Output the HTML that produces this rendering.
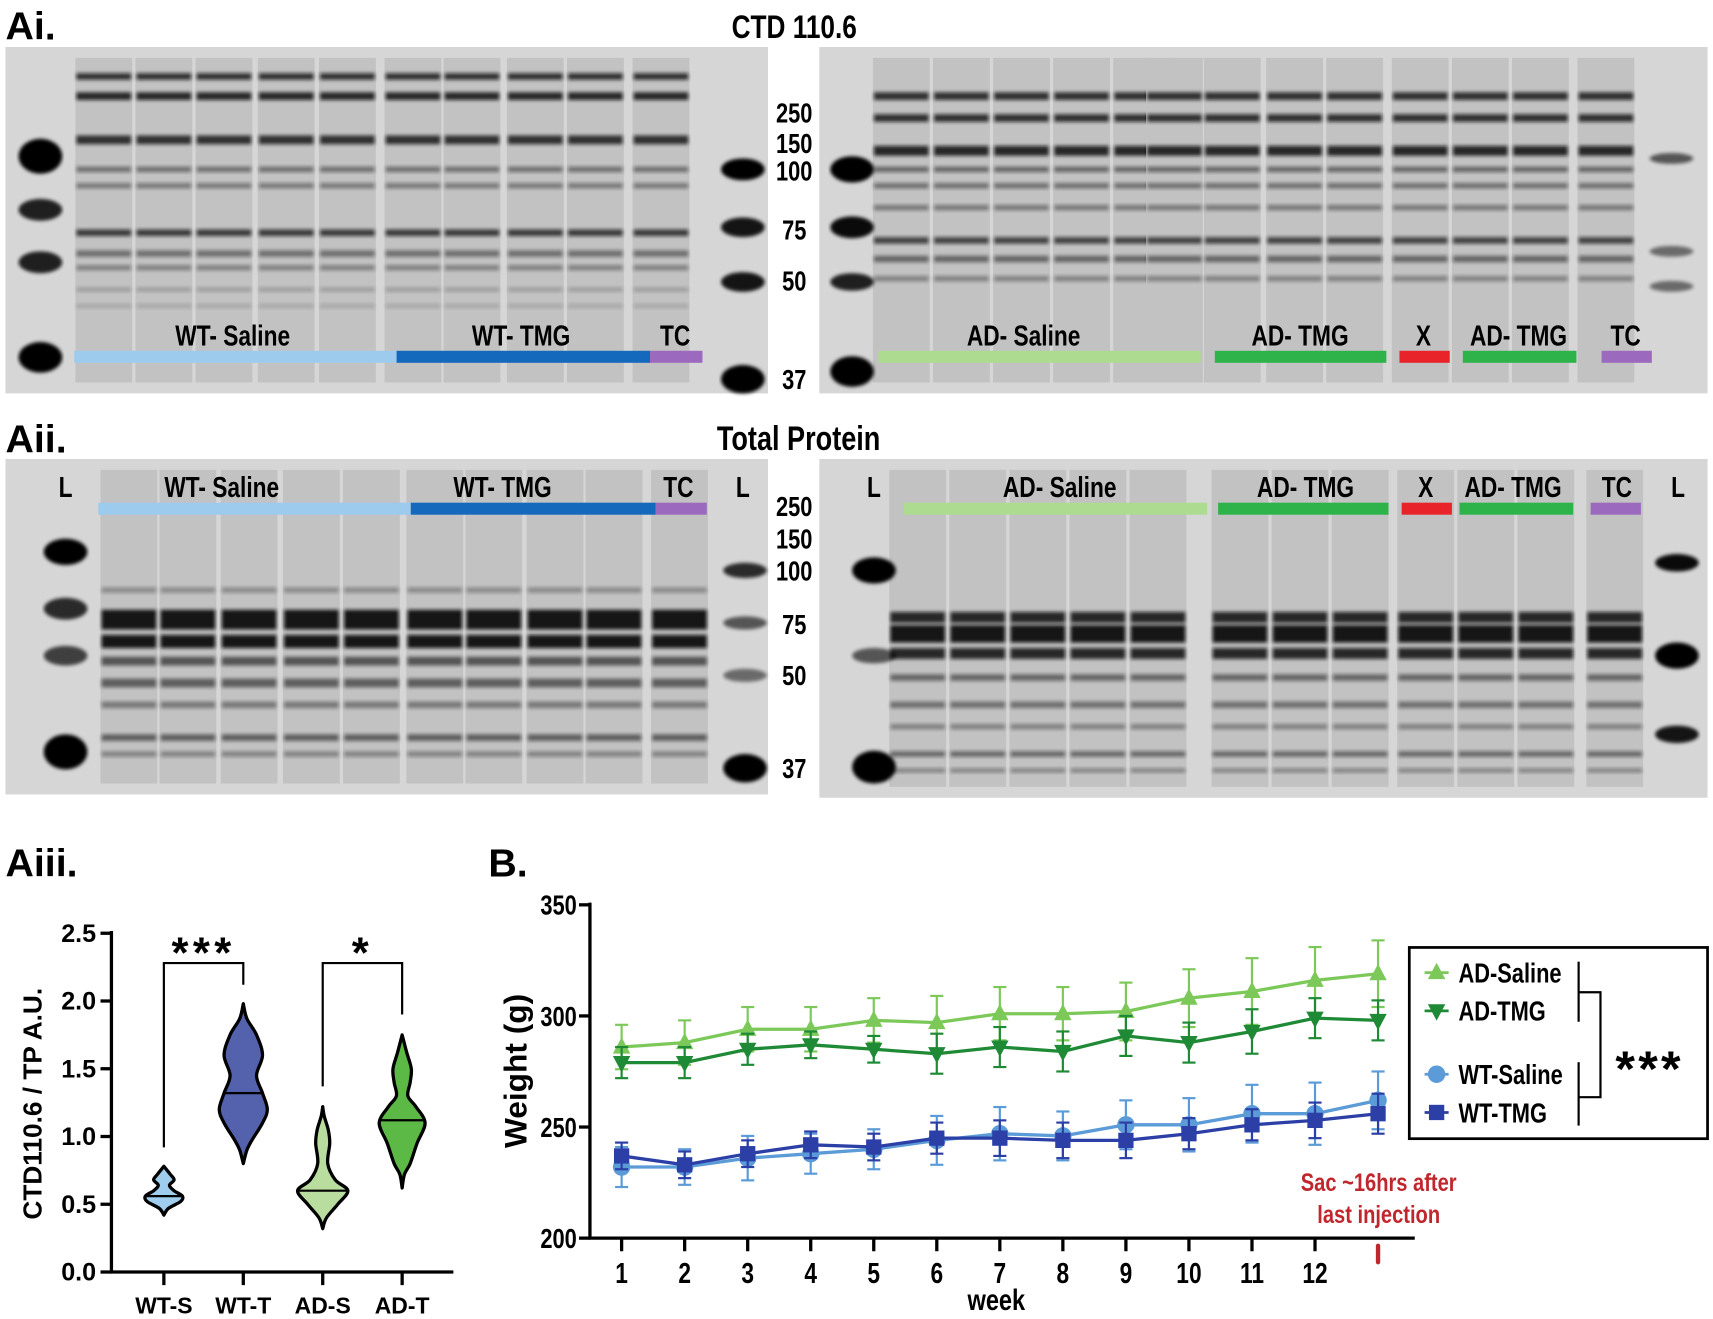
<!DOCTYPE html>
<html><head><meta charset="utf-8"><style>
html,body{margin:0;padding:0;background:#fff;}
svg{display:block;}
text{font-family:"Liberation Sans",Arial,sans-serif;font-weight:bold;}
</style></head><body>
<svg id="fig" width="1713" height="1319" viewBox="0 0 1568 1207" preserveAspectRatio="none" xmlns="http://www.w3.org/2000/svg">
<defs><filter id="bl" x="-5%" y="-50%" width="110%" height="200%"><feGaussianBlur stdDeviation="1.8"/></filter></defs>
<g id="blots"></g>
<g id="labels">
<text x="5" y="36" font-size="36">Ai.</text>
<text class="nar" x="727" y="35" font-size="30" text-anchor="middle">CTD 110.6</text>
<text x="5" y="414" font-size="36">Aii.</text>
<text class="nar" x="731" y="412" font-size="31" text-anchor="middle">Total Protein</text>
<g font-size="25" text-anchor="middle">
<text class="nar" x="727" y="112">250</text><text class="nar" x="727" y="140">150</text><text class="nar" x="727" y="165">100</text><text class="nar" x="727" y="219">75</text><text class="nar" x="727" y="266">50</text><text class="nar" x="727" y="356">37</text>
<text class="nar" x="727" y="472">250</text><text class="nar" x="727" y="502">150</text><text class="nar" x="727" y="531">100</text><text class="nar" x="727" y="580">75</text><text class="nar" x="727" y="627">50</text><text class="nar" x="727" y="712">37</text>
</g>
<g font-size="26" text-anchor="middle">
<text class="nar" x="213" y="316">WT- Saline</text><text class="nar" x="477" y="316">WT- TMG</text><text class="nar" x="618" y="316">TC</text>
<text class="nar" x="937" y="316">AD- Saline</text><text class="nar" x="1190" y="316">AD- TMG</text><text class="nar" x="1303" y="316">X</text><text class="nar" x="1390" y="316">AD- TMG</text><text class="nar" x="1488" y="316">TC</text>
<text class="nar" x="60" y="455">L</text><text class="nar" x="203" y="455">WT- Saline</text><text class="nar" x="460" y="455">WT- TMG</text><text class="nar" x="621" y="455">TC</text><text class="nar" x="680" y="455">L</text>
<text class="nar" x="800" y="455">L</text><text class="nar" x="970" y="455">AD- Saline</text><text class="nar" x="1195" y="455">AD- TMG</text><text class="nar" x="1305" y="455">X</text><text class="nar" x="1385" y="455">AD- TMG</text><text class="nar" x="1480" y="455">TC</text><text class="nar" x="1536" y="455">L</text>
</g>
<g>
<rect x="68" y="321" width="295" height="11" fill="#9dcbee"/><rect x="363" y="321" width="232" height="11" fill="#1469bd"/><rect x="595" y="321" width="48" height="11" fill="#9b69bd"/>
<rect x="804" y="321" width="295" height="11" fill="#addb8f"/><rect x="1112" y="321" width="157" height="11" fill="#2db34a"/><rect x="1281" y="321" width="46" height="11" fill="#e8232a"/><rect x="1339" y="321" width="104" height="11" fill="#2db34a"/><rect x="1466" y="321" width="46" height="11" fill="#9b69bd"/>
<rect x="90" y="460" width="286" height="11" fill="#9dcbee"/><rect x="376" y="460" width="224" height="11" fill="#1469bd"/><rect x="600" y="460" width="47" height="11" fill="#9b69bd"/>
<rect x="827" y="460" width="278" height="11" fill="#addb8f"/><rect x="1115" y="460" width="156" height="11" fill="#2db34a"/><rect x="1283" y="460" width="46" height="11" fill="#e8232a"/><rect x="1336" y="460" width="104" height="11" fill="#2db34a"/><rect x="1456" y="460" width="46" height="11" fill="#9b69bd"/>
</g>
</g>
<g id="violin"></g>
<g id="lines"></g>
</svg>
<script>
const NS="http://www.w3.org/2000/svg";
function mk(p,tag,at){const e=document.createElementNS(NS,tag);for(const k in at)e.setAttribute(k,at[k]);p.appendChild(e);return e;}

/* ---------- blots (image approximation) ---------- */
const blotG=document.getElementById('blots');
const blots=[
 {x:5,y:43,w:698,h:317,lanes:[95,150,205,262,318,378,432,490,545,605],lw:52,
  bands:[[70,6,.8],[88,7,.85],[128,8,.8],[155,5,.45],[170,5,.4],[213,6,.75],[232,6,.45],[245,5,.35],[265,4,.2],[280,4,.15]],
  ladder:[[37,143,16,1],[37,192,10,.85],[37,240,10,.85],[37,327,14,1],[680,155,10,1],[680,208,9,.9],[680,258,9,.9],[680,347,13,1]]},
 {x:750,y:43,w:813,h:317,lanes:[825,880,935,990,1045,1128,1185,1240,1300,1355,1410,1470,1075],lw:52,
  bands:[[88,7,.8],[108,7,.8],[138,9,.85],[155,5,.5],[170,5,.45],[190,5,.4],[220,6,.7],[237,6,.5],[255,5,.35]],
  ladder:[[780,155,12,1],[780,208,10,.95],[780,258,8,.85],[780,340,14,1],[1530,145,5,.6],[1530,230,5,.5],[1530,262,5,.5]]},
 {x:5,y:420,w:698,h:307,lanes:[118,172,228,285,340,398,452,508,562,622],lw:52,
  bands:[[540,5,.3],[567,18,.95],[587,12,.95],[605,8,.6],[625,8,.55],[645,6,.4],[675,6,.55],[690,5,.35]],
  ladder:[[60,505,12,1],[60,557,10,.8],[60,600,9,.7],[60,688,16,1],[682,522,7,.8],[682,570,6,.6],[682,618,6,.5],[682,703,13,1]]},
 {x:750,y:420,w:813,h:310,lanes:[840,895,950,1005,1060,1135,1190,1245,1305,1360,1415,1478],lw:52,
  bands:[[565,10,.85],[580,16,.95],[598,10,.85],[620,6,.5],[645,6,.45],[665,5,.35],[690,5,.5],[705,4,.35]],
  ladder:[[800,522,12,1],[800,600,7,.6],[800,702,15,1],[1535,515,8,.95],[1535,600,12,1],[1535,672,8,.9]]}
];
blots.forEach((b,i)=>{
 const g=mk(blotG,'g',{});
 
 
 mk(g,'rect',{x:b.x,y:b.y,width:b.w,height:b.h,fill:'#d6d6d6'});
 b.lanes.forEach(cx=>{
  const l=mk(g,'rect',{x:cx-b.lw/2,y:b.y+10,width:b.lw,height:b.h-20,fill:'#c2c2c2'});
  
  
  b.bands.forEach(bd=>{mk(g,'rect',{x:cx-b.lw/2+1,y:bd[0]-bd[1]/2,width:b.lw-2,height:bd[1],fill:'#111',opacity:bd[2],filter:'url(#bl)'});});
 });
 b.ladder.forEach(ld=>{mk(g,'ellipse',{cx:ld[0],cy:ld[1],rx:20,ry:ld[2],fill:'#000',opacity:ld[3],filter:'url(#bl)'});});
});

/* ---------- violin chart (Aiii) ---------- */
const vCats=['WT-S','WT-T','AD-S','AD-T'];
const vMedians=[0.56,1.32,0.60,1.12];
const vFill=['#9fcdee','#5462ae','#b9dd9e','#5cb946'];
const vProf0=[[0.42,0],[0.47,0.25],[0.52,0.9],[0.56,1],[0.60,0.55],[0.64,0.3],[0.68,0.55],[0.72,0.35],[0.78,0]];
const vProf1=[[0.80,0],[0.90,0.15],[0.97,0.35],[1.10,0.8],[1.20,1],[1.32,0.8],[1.45,0.55],[1.60,0.8],[1.75,0.55],[1.87,0.15],[1.98,0]];
const vProf2=[[0.32,0],[0.40,0.15],[0.50,0.6],[0.60,1],[0.68,0.5],[0.80,0.2],[0.95,0.28],[1.05,0.22],[1.15,0.06],[1.22,0]];
const vProf3=[[0.62,0],[0.72,0.1],[0.80,0.35],[0.95,0.65],[1.10,1],[1.22,0.6],[1.30,0.25],[1.40,0.35],[1.50,0.4],[1.62,0.2],[1.75,0]];
const vProfiles=[vProf0,vProf1,vProf2,vProf3];
const vHalf=[17,22,23,21];
const vTicks=[0,0.5,1.0,1.5,2.0,2.5];
const VG=document.getElementById('violin');
const vx=i=>150+i*72.7, vy=v=>1164-v*124;
mk(VG,'line',{x1:102,y1:vy(2.5)-2,x2:102,y2:1164,stroke:'#000','stroke-width':3});
mk(VG,'line',{x1:101,y1:1164,x2:415,y2:1164,stroke:'#000','stroke-width':3});
vTicks.forEach(t=>{
 mk(VG,'line',{x1:92,y1:vy(t),x2:102,y2:vy(t),stroke:'#000','stroke-width':3});
 const tx=mk(VG,'text',{x:88,y:vy(t)+8,'font-size':23,'text-anchor':'end'});tx.textContent=t.toFixed(1);
 
 
});
const yl=mk(VG,'text',{x:0,y:0,'font-size':24,'text-anchor':'middle',transform:'translate(38,1010) rotate(-90)'});yl.textContent='CTD110.6 / TP A.U.';


function smooth(pts){let d='M'+pts[0][0]+','+pts[0][1];for(let i=0;i<pts.length-1;i++){const p0=pts[Math.max(0,i-1)],p1=pts[i],p2=pts[i+1],p3=pts[Math.min(pts.length-1,i+2)];d+=` C${p1[0]+(p2[0]-p0[0])/6},${p1[1]+(p2[1]-p0[1])/6} ${p2[0]-(p3[0]-p1[0])/6},${p2[1]-(p3[1]-p1[1])/6} ${p2[0]},${p2[1]}`;}return d;}
function widthAt(prof,v){for(let i=0;i<prof.length-1;i++){if(v>=prof[i][0]&&v<=prof[i+1][0]){const t=(v-prof[i][0])/(prof[i+1][0]-prof[i][0]);return prof[i][1]+t*(prof[i+1][1]-prof[i][1]);}}return 0;}
vCats.forEach((c,i)=>{
 const cx=vx(i),prof=vProfiles[i];
 mk(VG,'line',{x1:cx,y1:1164,x2:cx,y2:1176,stroke:'#000','stroke-width':3});
 const lab=mk(VG,'text',{x:cx,y:1202,'font-size':21,'text-anchor':'middle'});lab.textContent=c;
 
 
 const R=prof.map(p=>[cx+p[1]*vHalf[i],vy(p[0])]);
 const L=prof.map(p=>[cx-p[1]*vHalf[i],vy(p[0])]).reverse();
 const d=smooth(R)+' '+smooth(L).replace(/^M/,'L')+'Z';
 const p=mk(VG,'path',{d:d,fill:vFill[i],stroke:'#000','stroke-width':3,'stroke-linejoin':'round'});
 
 
 const hw=widthAt(prof,vMedians[i])*vHalf[i];
 const m=mk(VG,'line',{x1:cx-hw,y1:vy(vMedians[i]),x2:cx+hw,y2:vy(vMedians[i]),stroke:'#000','stroke-width':2});
 
 
});
[[0,1,'***',0.92,2.12],[2,3,'*',1.37,1.9]].forEach(s=>{
 const y=vy(2.28);
 mk(VG,'polyline',{points:`${vx(s[0])},${vy(s[3])} ${vx(s[0])},${y} ${vx(s[1])},${y} ${vx(s[1])},${vy(s[4])}`,fill:'none',stroke:'#000','stroke-width':2});
 const t=mk(VG,'text',{x:(vx(s[0])+vx(s[1]))/2,y:y+4,'font-size':40,'text-anchor':'middle','letter-spacing':'4'});t.textContent=s[2];
 
 
});
const pl=mk(VG,'text',{x:5,y:802,'font-size':36});pl.textContent='Aiii.';



/* ---------- weight chart (B) ---------- */
const weeks=[1,2,3,4,5,6,7,8,9,10,11,12,13];
const adSaline=[286,288,294,294,298,297,301,301,302,308,311,316,319];
const adSalineErr=[10,10,10,10,10,12,12,12,13,13,15,15,15];
const adTMG=[279,279,285,287,285,283,286,284,291,288,293,299,298];
const adTMGErr=[7,7,7,6,6,9,9,9,9,9,10,9,9];
const wtSaline=[232,232,236,238,240,244,247,246,251,251,256,256,262];
const wtSalineErr=[9,8,10,9,9,11,12,11,11,12,13,14,13];
const wtTMG=[237,233,238,242,241,245,245,244,244,247,251,253,256];
const wtTMGErr=[6,6,6,6,6,7,8,8,8,7,7,8,9];
const yTicksB=[200,250,300,350];
const xLabels=['1','2','3','4','5','6','7','8','9','10','11','12'];
const LG=document.getElementById('lines');
const bx=w=>569+(w-1)*57.7, by=v=>1133-(v-200)*(305/150);
mk(LG,'line',{x1:540,y1:by(350)-2,x2:540,y2:1134,stroke:'#000','stroke-width':3});
mk(LG,'line',{x1:539,y1:1133,x2:1295,y2:1133,stroke:'#000','stroke-width':3});
yTicksB.forEach(t=>{
 mk(LG,'line',{x1:530,y1:by(t),x2:540,y2:by(t),stroke:'#000','stroke-width':3});
 const tx=mk(LG,'text',{x:528,y:by(t)+9,'font-size':25,'text-anchor':'end',class:'nar'});tx.textContent=t;
 
 
});
xLabels.forEach((l,i)=>{
 mk(LG,'line',{x1:bx(i+1),y1:1133,x2:bx(i+1),y2:1145,stroke:'#000','stroke-width':3});
 const tx=mk(LG,'text',{x:bx(i+1),y:1174,'font-size':26,'text-anchor':'middle',class:'nar'});tx.textContent=l;
 
 
});
const sac=mk(LG,'line',{x1:bx(13),y1:1140,x2:bx(13),y2:1155,stroke:'#c0272d','stroke-width':4,'stroke-linecap':'round'});


[['Sac ~16hrs after',1090],['last injection',1119]].forEach(a=>{
 const t=mk(LG,'text',{x:1262,y:a[1],'font-size':23,fill:'#c0272d','text-anchor':'middle',class:'nar'});t.textContent=a[0];
 
 
});
const xt=mk(LG,'text',{x:912,y:1199,'font-size':27,'text-anchor':'middle',class:'nar'});xt.textContent='week';


const yt=mk(LG,'text',{x:0,y:0,'font-size':29,'text-anchor':'middle',transform:'translate(482,980) rotate(-90)'});yt.textContent='Weight (g)';


const pb=mk(LG,'text',{x:447,y:802,'font-size':36});pb.textContent='B.';


function marker(g,type,x,y,c){
 if(type==='up')mk(g,'polygon',{points:`${x},${y-9} ${x-8},${y+6} ${x+8},${y+6}`,fill:c});
 else if(type==='down')mk(g,'polygon',{points:`${x},${y+9} ${x-8},${y-6} ${x+8},${y-6}`,fill:c});
 else if(type==='circle')mk(g,'circle',{cx:x,cy:y,r:8,fill:c});
 else mk(g,'rect',{x:x-7,y:y-7,width:14,height:14,fill:c});
}
const seriesB=[
 {name:'AD-Saline',vals:adSaline,err:adSalineErr,c:'#7cc95a',m:'up'},
 {name:'AD-TMG',vals:adTMG,err:adTMGErr,c:'#1f8a35',m:'down'},
 {name:'WT-Saline',vals:wtSaline,err:wtSalineErr,c:'#5b9bd8',m:'circle'},
 {name:'WT-TMG',vals:wtTMG,err:wtTMGErr,c:'#2b3fa6',m:'square'}
];
seriesB.forEach(s=>{
 const g=mk(LG,'g',{});
 
 
 weeks.forEach((w,i)=>{
  const x=bx(w),y1=by(s.vals[i]+s.err[i]),y2=by(s.vals[i]-s.err[i]);
  mk(g,'line',{x1:x,y1:y1,x2:x,y2:y2,stroke:s.c,'stroke-width':2});
  mk(g,'line',{x1:x-6,y1:y1,x2:x+6,y2:y1,stroke:s.c,'stroke-width':2});
  mk(g,'line',{x1:x-6,y1:y2,x2:x+6,y2:y2,stroke:s.c,'stroke-width':2});
 });
 mk(g,'polyline',{points:weeks.map((w,i)=>bx(w)+','+by(s.vals[i])).join(' '),fill:'none',stroke:s.c,'stroke-width':3});
 weeks.forEach((w,i)=>marker(g,s.m,bx(w),by(s.vals[i]),s.c));
});
/* legend */
const LGD=mk(LG,'g',{});


mk(LGD,'rect',{x:1290,y:867,width:273,height:175,fill:'#fff',stroke:'#000','stroke-width':2.5});
const legY=[890,925,983,1018];
seriesB.forEach((s,i)=>{
 mk(LGD,'line',{x1:1304,y1:legY[i],x2:1326,y2:legY[i],stroke:s.c,'stroke-width':2.5});
 marker(LGD,s.m,1315,legY[i],s.c);
 const t=mk(LGD,'text',{x:1335,y:legY[i]+9,'font-size':25,class:'nar'});t.textContent=s.name;
 
 
});
mk(LGD,'line',{x1:1445,y1:880,x2:1445,y2:935,stroke:'#000','stroke-width':2});
mk(LGD,'line',{x1:1445,y1:972,x2:1445,y2:1030,stroke:'#000','stroke-width':2});
mk(LGD,'polyline',{points:'1445,908 1465,908 1465,1004 1445,1004',fill:'none',stroke:'#000','stroke-width':2});
const st=mk(LGD,'text',{x:1510,y:994,'font-size':46,'text-anchor':'middle','letter-spacing':'3'});st.textContent='***';



/* condense narrow-styled text horizontally */
document.querySelectorAll('text.nar').forEach(t=>{
 const x=parseFloat(t.getAttribute('x'));
 t.setAttribute('transform',`translate(${x},0) scale(0.8,1) translate(${-x},0)`);
});
</script>
</body></html>
